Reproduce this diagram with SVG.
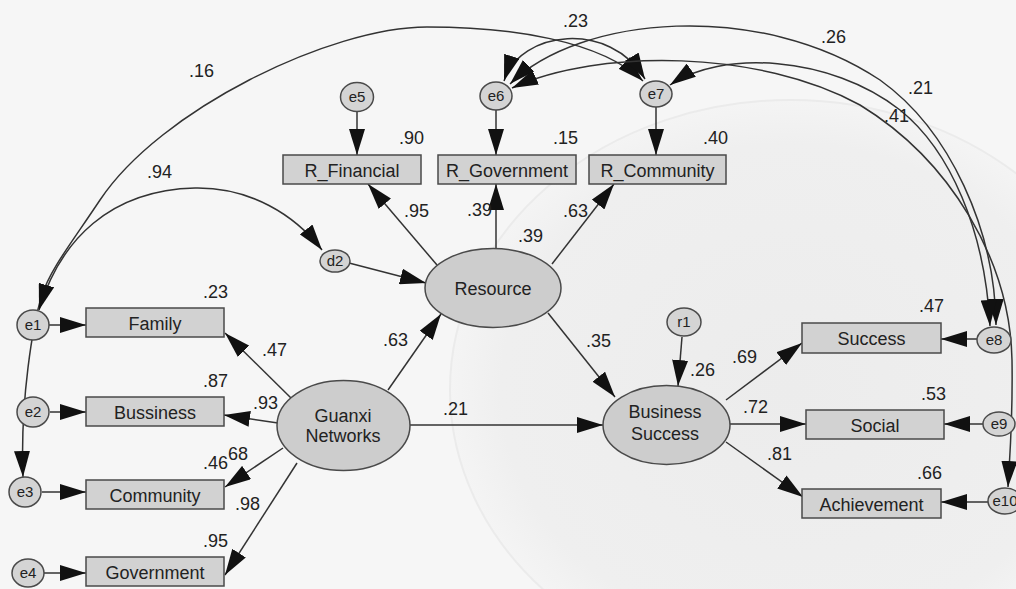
<svg xmlns="http://www.w3.org/2000/svg" width="1016" height="589" viewBox="0 0 1016 589">
<defs>
<marker id="ah" markerUnits="userSpaceOnUse" markerWidth="26" markerHeight="16" viewBox="0 0 26 16" refX="26" refY="8" orient="auto-start-reverse">
<path d="M0,0 L26,8 L0,16 z" fill="#111"/>
</marker>
<radialGradient id="bgw" cx="0.5" cy="0.5" r="0.5">
<stop offset="0" stop-color="#ececec"/>
<stop offset="0.85" stop-color="#efefef"/>
<stop offset="1" stop-color="#f4f4f4"/>
</radialGradient>
</defs>
<style>
.box{fill:#d2d2d2;stroke:#4a4a4a;stroke-width:1.5}
.lat{fill:#cdcdcd;stroke:#4a4a4a;stroke-width:1.5}
.err{fill:#d4d4d4;stroke:#4a4a4a;stroke-width:1.5}
.t{font-family:"Liberation Sans",Arial,sans-serif;font-size:18px;fill:#222;text-anchor:middle}
.s{font-family:"Liberation Sans",Arial,sans-serif;font-size:15px;fill:#222;text-anchor:middle}
.n{font-family:"Liberation Sans",Arial,sans-serif;font-size:18px;fill:#222}
.c line,.c path{stroke:#333;stroke-width:1.5;fill:none;marker-end:url(#ah)}
.c .dbl{marker-start:url(#ah)}
</style>
<rect x="0" y="0" width="1016" height="589" fill="#f6f6f6"/>
<ellipse cx="790" cy="390" rx="340" ry="290" fill="url(#bgw)" stroke="#ebebeb" stroke-width="2"/>

<g class="c" id="connectors">
<line x1="357" y1="112" x2="357" y2="155"/>
<line x1="496" y1="110" x2="496" y2="155"/>
<line x1="656" y1="107" x2="656" y2="155"/>
<line x1="437" y1="265" x2="368" y2="184"/>
<line x1="496" y1="248" x2="496" y2="184"/>
<line x1="552" y1="264" x2="614" y2="184"/>
<line x1="349" y1="263" x2="426" y2="283"/>
<line x1="388" y1="390" x2="441" y2="314"/>
<line x1="291" y1="398" x2="225" y2="333"/>
<line x1="278" y1="423" x2="224" y2="415"/>
<line x1="283" y1="448" x2="225" y2="487"/>
<line x1="297" y1="463" x2="225" y2="575"/>
<line x1="410" y1="425" x2="603" y2="425"/>
<line x1="548" y1="313" x2="615" y2="397"/>
<line x1="682" y1="337" x2="678" y2="386"/>
<line x1="726" y1="400" x2="802" y2="343"/>
<line x1="730" y1="424" x2="806" y2="424"/>
<line x1="726" y1="442" x2="803" y2="497"/>
<line x1="977" y1="339" x2="941" y2="339"/>
<line x1="983" y1="424" x2="944" y2="424"/>
<line x1="988" y1="502" x2="941" y2="502"/>
<line x1="49" y1="325" x2="86" y2="325"/>
<line x1="50" y1="412" x2="86" y2="412"/>
<line x1="42" y1="492" x2="86" y2="492"/>
<line x1="44" y1="573" x2="86" y2="573"/>
<path class="dbl" d="M643,81 C600,40 510,27 427,27 C330,27 160,110 100,200 C70,245 50,270 42,295 C33,323 20,400 23,477"/>
<path class="dbl" d="M39,310 C60,240 110,190 195,188 C250,187 295,215 322,250"/>
<path class="dbl" d="M504,81 C520,30 610,20 645,79"/>
<path class="dbl" d="M510,84 C580,15 760,0 880,80 C950,130 995,230 996,325"/>
<path class="dbl" d="M670,85 C720,50 830,55 900,110 C950,150 985,230 990,326"/>
<path class="dbl" d="M512,88 C600,48 760,50 860,105 C950,160 1010,260 1012,360 C1013,420 1010,450 1008,487"/>
</g>

<g id="R_Financial"><rect class="box" x="283" y="155" width="138" height="29"/><text class="t" x="352" y="177">R_Financial</text></g>
<g id="R_Government"><rect class="box" x="438" y="155" width="138" height="29"/><text class="t" x="507" y="177">R_Government</text></g>
<g id="R_Community"><rect class="box" x="589" y="155" width="137" height="29"/><text class="t" x="657.5" y="177">R_Community</text></g>
<g id="Family"><rect class="box" x="86" y="308" width="138" height="29"/><text class="t" x="155" y="330">Family</text></g>
<g id="Bussiness"><rect class="box" x="86" y="397" width="138" height="29"/><text class="t" x="155" y="419">Bussiness</text></g>
<g id="Community"><rect class="box" x="86" y="480" width="138" height="29"/><text class="t" x="155" y="502">Community</text></g>
<g id="Government"><rect class="box" x="86" y="557" width="138" height="29"/><text class="t" x="155" y="579">Government</text></g>
<g id="Success"><rect class="box" x="802" y="323" width="139" height="30"/><text class="t" x="871.5" y="345">Success</text></g>
<g id="Social"><rect class="box" x="806" y="410" width="138" height="29"/><text class="t" x="875" y="432">Social</text></g>
<g id="Achievement"><rect class="box" x="802" y="489" width="139" height="29"/><text class="t" x="871.5" y="511">Achievement</text></g>

<g id="Resource"><ellipse class="lat" cx="493" cy="288" rx="68" ry="39.5"/><text class="t" x="493" y="295">Resource</text></g>
<g id="Guanxi"><ellipse class="lat" cx="343.5" cy="425.5" rx="66.5" ry="45"/><text class="t" x="343" y="422">Guanxi</text><text class="t" x="343" y="442">Networks</text></g>
<g id="BusinessSuccess"><ellipse class="lat" cx="666.5" cy="425" rx="63.5" ry="39.5"/><text class="t" x="665" y="418">Business</text><text class="t" x="665" y="440">Success</text></g>

<g id="e1"><ellipse class="err" cx="33" cy="325" rx="16" ry="15"/><text class="s" x="33" y="330">e1</text></g>
<g id="e2"><ellipse class="err" cx="33" cy="412" rx="16" ry="15"/><text class="s" x="33" y="417">e2</text></g>
<g id="e3"><ellipse class="err" cx="25" cy="492" rx="16" ry="15"/><text class="s" x="25" y="497">e3</text></g>
<g id="e4"><ellipse class="err" cx="28" cy="573" rx="16" ry="14"/><text class="s" x="28" y="578">e4</text></g>
<g id="e5"><ellipse class="err" cx="357" cy="97" rx="16.5" ry="14.5"/><text class="s" x="357" y="102">e5</text></g>
<g id="e6"><ellipse class="err" cx="496" cy="96" rx="16" ry="14"/><text class="s" x="496" y="101">e6</text></g>
<g id="e7"><ellipse class="err" cx="656" cy="94" rx="16" ry="13"/><text class="s" x="656" y="99">e7</text></g>
<g id="e8"><ellipse class="err" cx="994" cy="340" rx="17" ry="13"/><text class="s" x="994" y="345">e8</text></g>
<g id="e9"><ellipse class="err" cx="999" cy="424" rx="16" ry="12"/><text class="s" x="999" y="429">e9</text></g>
<g id="e10"><ellipse class="err" cx="1005" cy="501" rx="17" ry="13"/><text class="s" x="1005" y="506">e10</text></g>
<g id="d2"><ellipse class="err" cx="335" cy="261" rx="15" ry="11"/><text class="s" x="335" y="266">d2</text></g>
<g id="r1"><ellipse class="err" cx="684" cy="322" rx="17" ry="14"/><text class="s" x="684" y="327">r1</text></g>

<g id="labels">
<text class="n" x="189" y="77">.16</text>
<text class="n" x="147" y="178">.94</text>
<text class="n" x="399" y="144">.90</text>
<text class="n" x="553" y="144">.15</text>
<text class="n" x="703" y="144">.40</text>
<text class="n" x="563" y="27">.23</text>
<text class="n" x="821" y="43">.26</text>
<text class="n" x="908" y="94">.21</text>
<text class="n" x="884" y="122">.41</text>
<text class="n" x="404" y="217">.95</text>
<text class="n" x="467" y="216">.39</text>
<text class="n" x="518" y="242">.39</text>
<text class="n" x="563" y="217">.63</text>
<text class="n" x="203" y="298">.23</text>
<text class="n" x="262" y="356">.47</text>
<text class="n" x="383" y="346">.63</text>
<text class="n" x="203" y="387">.87</text>
<text class="n" x="253" y="409">.93</text>
<text class="n" x="203" y="469">.46</text>
<text class="n" x="228" y="460">68</text>
<text class="n" x="235" y="510">.98</text>
<text class="n" x="203" y="547">.95</text>
<text class="n" x="443" y="415">.21</text>
<text class="n" x="586" y="347">.35</text>
<text class="n" x="690" y="376">.26</text>
<text class="n" x="732" y="363">.69</text>
<text class="n" x="919" y="312">.47</text>
<text class="n" x="743" y="413">.72</text>
<text class="n" x="921" y="400">.53</text>
<text class="n" x="767" y="460">.81</text>
<text class="n" x="917" y="479">.66</text>
</g>
</svg>
